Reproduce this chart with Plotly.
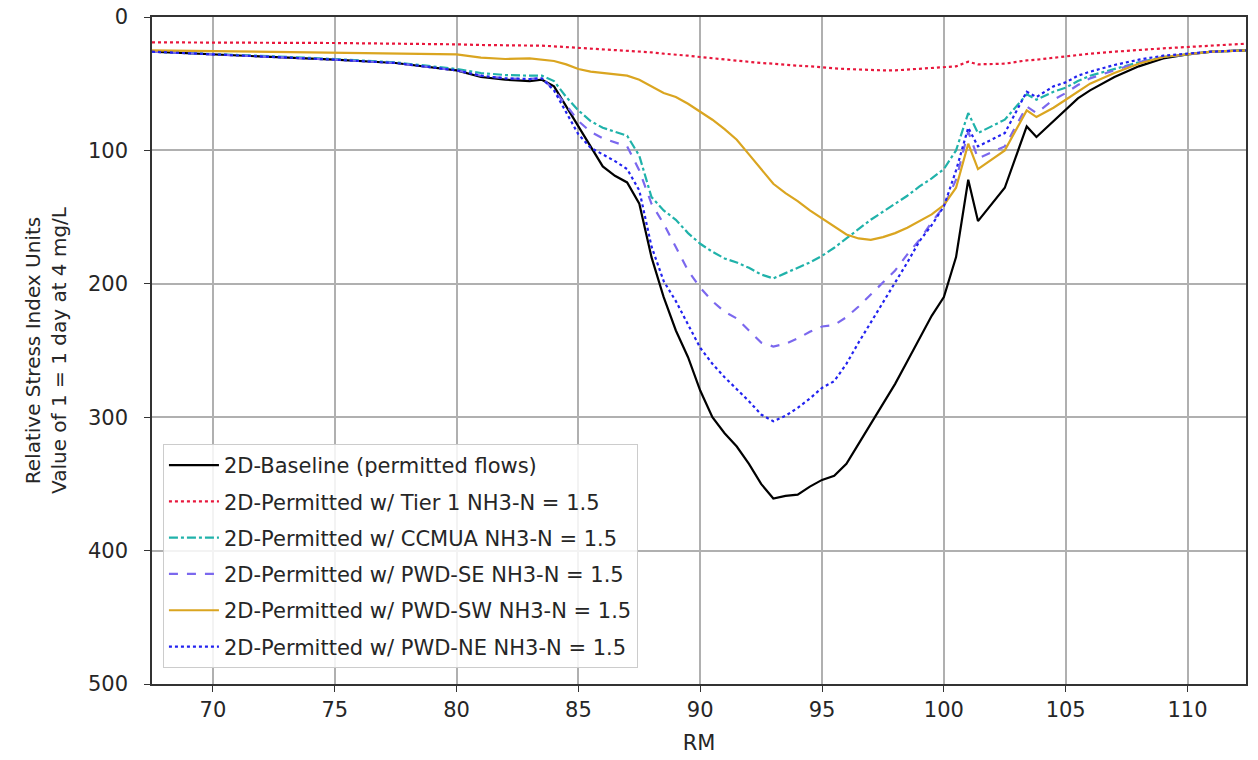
import plotly.graph_objects as go

RM = [67.5, 70, 72.5, 75, 77.5, 79, 80, 81, 82, 83, 83.5, 84, 84.5, 85, 85.5, 86, 86.5, 87, 87.5, 88,
      88.5, 89, 89.5, 90, 90.5, 91, 91.5, 92, 92.5, 93, 93.5, 94, 94.5, 95, 95.5, 96, 96.5, 97, 97.5, 98,
      98.5, 99, 99.5, 100, 100.5, 101, 101.4, 102.5, 103.4, 103.8, 104.5, 105, 105.5, 106, 107, 108, 109, 110, 111, 112.4]

baseline = [26, 28, 29.5, 32, 34.5, 37.5, 40, 45, 47, 48, 47, 52, 67, 83, 98, 112, 119, 124, 140, 180,
            210, 235, 255, 280, 300, 312, 322, 335, 350, 361, 359, 358, 352, 347, 344, 335, 320, 305, 290, 275,
            258, 241, 224, 210, 180, 122, 153, 128, 82, 90, 78, 69, 61, 55, 45, 37, 31, 28, 26, 25]

tier1 = [19, 19, 19.5, 19.5, 20, 20, 20.5, 21, 21, 21, 21.5, 22, 22.5, 23, 23.5, 24, 24.5, 25, 26, 26.5,
         27.5, 28, 29, 30, 31, 32, 32.5, 33.5, 34.5, 35, 36, 36.5, 37, 38, 38.5, 39, 39.5, 40, 40, 40,
         39.5, 39, 38.5, 38, 37, 33.5, 35.5, 35, 32.5, 32, 30.5, 29.5, 28.5, 27.5, 26, 24.5, 23.5, 22.5, 21.5, 20]

ccmua = [26, 27.5, 29.5, 31.5, 34, 37, 39, 42, 43.5, 44, 44, 48, 60, 70, 78, 83, 86, 89, 104, 135,
         145, 152, 162, 170, 176, 181, 184, 188, 193, 196, 192, 188, 184, 179, 173, 166, 159, 152, 146, 140,
         134, 127, 121, 114, 100, 72, 87, 77, 58, 62, 56, 53, 48, 44, 39, 34, 30, 28, 26, 25]

pwd_se = [26, 28, 29.5, 32, 34.5, 37.5, 40, 44, 46, 46.5, 45.5, 55, 66, 78, 86, 91, 94, 97, 115, 140,
          155, 172, 190, 203, 213, 221, 226, 235, 244, 247, 245, 241, 236, 232, 231, 225, 217, 208, 199, 190,
          178, 167, 154, 142, 122, 86, 106, 97, 67, 72, 62, 57, 51, 46, 40, 34, 30, 28, 26, 25]

pwd_sw = [25, 25.5, 26, 26.5, 27, 27.5, 28, 30.5, 31.5, 31, 32, 33, 35.5, 39, 41, 42, 43, 44, 47, 52,
          57, 60, 65, 71, 77, 84, 92, 103, 114, 125, 132, 138, 145, 151, 157, 163, 166, 167, 165, 162,
          158, 153, 148, 141, 128, 95, 114, 100, 70, 75, 68, 62, 56, 50, 42, 35, 30, 28, 26, 25]

pwd_ne = [26, 28, 29.5, 32, 34.5, 37.5, 40, 44, 46, 46.5, 46, 55, 72, 88, 98, 103, 108, 114, 130, 172,
          198, 213, 230, 248, 260, 270, 279, 288, 298, 303, 299, 293, 286, 278, 273, 260, 244, 229, 215, 200,
          184, 168, 156, 142, 115, 83, 97, 87, 56, 60, 52, 49, 44, 41, 36, 32, 29, 27.5, 26, 25]

series = [
    ("2D-Baseline (permitted flows)", baseline, "#000000", "solid"),
    ("2D-Permitted w/ Tier 1 NH3-N = 1.5", tier1, "#E8173C", "dot"),
    ("2D-Permitted w/ CCMUA NH3-N = 1.5", ccmua, "#20B2AA", "dashdot"),
    ("2D-Permitted w/ PWD-SE NH3-N = 1.5", pwd_se, "#7B68EE", "dash"),
    ("2D-Permitted w/ PWD-SW NH3-N = 1.5", pwd_sw, "#DAA520", "solid"),
    ("2D-Permitted w/ PWD-NE NH3-N = 1.5", pwd_ne, "#2222F0", "dot"),
]

fig = go.Figure()
for i, (name, vals, color, dash) in enumerate(series):
    fig.add_trace(go.Scatter(x=RM, y=vals, mode="lines", name=name, legendgroup=f"g{i}",
                             line=dict(color=color, width=2.2, dash=dash)))

fs = 21
font = dict(family="DejaVu Sans", size=fs, color="#262626")
fig.update_layout(
    width=1258, height=760,
    margin=dict(l=152, r=12, t=17, b=76),
    paper_bgcolor="white", plot_bgcolor="white",
    font=font,
    showlegend=True,
    legend=dict(x=0.01, y=0.36, xanchor="left", yanchor="top", bgcolor="rgba(255,255,255,0.85)",
                bordercolor="#cccccc", borderwidth=1, font=dict(family="DejaVu Sans", size=fs, color="#262626"),
                tracegroupgap=6, itemwidth=50),
)
fig.update_xaxes(range=[67.5, 112.4], tickvals=[70, 75, 80, 85, 90, 95, 100, 105, 110],
                 ticks="outside", ticklen=6, tickcolor="#333333", showline=True, mirror=True,
                 linecolor="#333333", linewidth=1.5, showgrid=True, gridcolor="#b0b0b0", gridwidth=1.5,
                 zeroline=False, automargin=False,
                 title=dict(text="RM", font=dict(size=fs), standoff=14))
fig.update_yaxes(range=[500, 0], tickvals=[0, 100, 200, 300, 400, 500],
                 ticks="outside", ticklen=6, tickcolor="#333333", showline=True, mirror=True,
                 linecolor="#333333", linewidth=1.5, showgrid=True, gridcolor="#b0b0b0", gridwidth=1.5,
                 zeroline=False, ticklabelstandoff=12, automargin=False,
                 title=dict(text="Relative Stress Index Units<br>Value of 1 = 1 day at 4 mg/L",
                            font=dict(size=fs - 1), standoff=16))
fig.write_html("out.html")
